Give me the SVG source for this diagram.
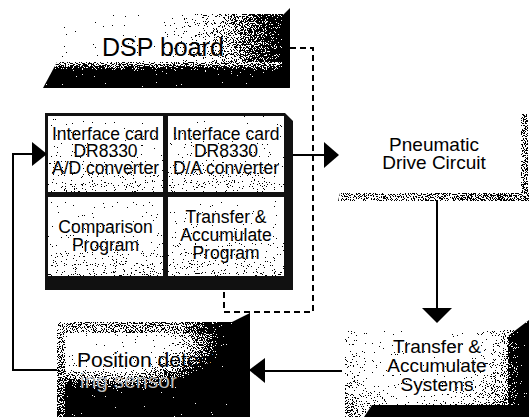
<svg xmlns="http://www.w3.org/2000/svg" width="529" height="417" viewBox="0 0 529 417">
<style>
  text { font-family: "Liberation Sans", Arial, sans-serif; fill: #000; }
  .cell { font-size: 17.5px; text-anchor: middle; }
  .big { font-size: 19px; text-anchor: middle; }
  .line { fill: none; stroke: #000; stroke-width: 2; }
  .dash { fill: none; stroke: #000; stroke-width: 2; stroke-dasharray: 6 4; }
  .head { fill: #000; }
  .gr { filter: url(#grain); }
</style>
<defs>
  <filter id="grain" x="0" y="0" width="1" height="1" color-interpolation-filters="sRGB">
    <feTurbulence type="fractalNoise" baseFrequency="0.9" numOctaves="2" seed="7" result="n"/>
    <feColorMatrix in="n" type="matrix" values="1 0 0 0 0  1 0 0 0 0  1 0 0 0 0  0 0 0 0 1" result="g"/>
    <feComposite in="SourceGraphic" in2="g" operator="arithmetic" k1="0" k2="1" k3="1.7" k4="-0.85" result="s"/>
    <feComponentTransfer in="s" result="t">
      <feFuncR type="discrete" tableValues="0 1"/>
      <feFuncG type="discrete" tableValues="0 1"/>
      <feFuncB type="discrete" tableValues="0 1"/>
    </feComponentTransfer>
    <feComposite in="t" in2="SourceGraphic" operator="in"/>
  </filter>
  <linearGradient id="dspFace" x1="0" y1="0" x2="1" y2="0">
    <stop offset="0" stop-color="#fff"/>
    <stop offset="0.4" stop-color="#fff"/>
    <stop offset="0.7" stop-color="#b4b4b4"/>
    <stop offset="1" stop-color="#333"/>
  </linearGradient>
  <linearGradient id="dspBottom" x1="0" y1="0" x2="0" y2="1">
    <stop offset="0" stop-color="#aaa"/>
    <stop offset="0.4" stop-color="#111"/>
    <stop offset="1" stop-color="#000"/>
  </linearGradient>
  <linearGradient id="cellFill" x1="0" y1="0" x2="0" y2="1">
    <stop offset="0" stop-color="#fafafa"/>
    <stop offset="0.5" stop-color="#e8e8e8"/>
    <stop offset="1" stop-color="#c4c4c4"/>
  </linearGradient>
  <linearGradient id="strip" x1="0" y1="0" x2="1" y2="0">
    <stop offset="0" stop-color="#999"/>
    <stop offset="1" stop-color="#777"/>
  </linearGradient>
  <radialGradient id="tasFill" gradientUnits="userSpaceOnUse" cx="420" cy="340" r="140">
    <stop offset="0" stop-color="#fff"/>
    <stop offset="0.4" stop-color="#e8e8e8"/>
    <stop offset="0.7" stop-color="#999"/>
    <stop offset="1" stop-color="#444"/>
  </radialGradient>
  <linearGradient id="tasRight" x1="0" y1="0" x2="1" y2="0">
    <stop offset="0" stop-color="#555"/>
    <stop offset="1" stop-color="#000"/>
  </linearGradient>
  <radialGradient id="posFill" gradientUnits="userSpaceOnUse" cx="110" cy="345" r="100" gradientTransform="translate(110 345) scale(1.25 0.5) translate(-110 -345)">
    <stop offset="0" stop-color="#fff"/>
    <stop offset="0.45" stop-color="#e4e4e4"/>
    <stop offset="0.75" stop-color="#777"/>
    <stop offset="0.9" stop-color="#222"/>
    <stop offset="1" stop-color="#000"/>
  </radialGradient>
  <linearGradient id="posTop" x1="0" y1="0" x2="1" y2="0">
    <stop offset="0" stop-color="#999"/>
    <stop offset="0.7" stop-color="#888"/>
    <stop offset="1" stop-color="#000"/>
  </linearGradient>
  <linearGradient id="posLeft" x1="0" y1="0" x2="0" y2="1">
    <stop offset="0" stop-color="#999"/>
    <stop offset="1" stop-color="#666"/>
  </linearGradient>
</defs>

<g id="dsp-board">
  <polygon class="gr" points="55,14 283,14 283,64 55,64" fill="url(#dspFace)"/>
  <polygon class="gr" points="43,88 57,62 283,62 290,88" fill="url(#dspBottom)"/>
  <polygon points="282,16 290,8 290,88 282,82" fill="#000"/>
  <text x="102" y="56" font-size="25">DSP board</text>
</g>

<g id="dsp-cards">
  <polygon points="45,113 285,113 293,121 293,290 45,290" fill="#111"/>
  <rect class="gr" x="48" y="116" width="115" height="76" fill="url(#cellFill)"/>
  <rect class="gr" x="168" y="116" width="116" height="76" fill="url(#cellFill)"/>
  <rect class="gr" x="48" y="197" width="115" height="79" fill="url(#cellFill)"/>
  <rect class="gr" x="168" y="197" width="116" height="79" fill="url(#cellFill)"/>
  <text class="cell" y="140"><tspan x="105.5">Interface card</tspan><tspan x="105.5" dy="17">DR8330</tspan><tspan x="105.5" dy="17">A/D converter</tspan></text>
  <text class="cell" y="140"><tspan x="226">Interface card</tspan><tspan x="226" dy="17">DR8330</tspan><tspan x="226" dy="17">D/A converter</tspan></text>
  <text class="cell" y="233"><tspan x="105.5">Comparison</tspan><tspan x="105.5" dy="18">Program</tspan></text>
  <text class="cell" y="223"><tspan x="226">Transfer &amp;</tspan><tspan x="226" dy="18">Accumulate</tspan><tspan x="226" dy="18">Program</tspan></text>
</g>

<g id="pneumatic">
  <polygon class="gr" points="340,193 529,193 529,201 338,201" fill="url(#strip)"/>
  <rect class="gr" x="521" y="114" width="7" height="82" fill="url(#strip)"/>
  <text class="big" y="151"><tspan x="434">Pneumatic</tspan><tspan x="434" dy="18">Drive Circuit</tspan></text>
</g>

<g id="transfer-systems">
  <rect class="gr" x="345" y="330" width="184" height="87" fill="url(#tasFill)"/>
  <polygon class="gr" points="508,336 529,320 529,417 508,417" fill="url(#tasRight)"/>
  <polygon points="372,405 529,405 529,417 364,417" fill="#000"/>
  <text class="big" y="353"><tspan x="437">Transfer &amp;</tspan><tspan x="437" dy="19">Accumulate</tspan><tspan x="437" dy="19">Systems</tspan></text>
</g>

<g id="position-sensor">
  <polygon class="gr" points="57,322 240,322 250,313 250,417 57,417" fill="url(#posFill)"/>
  <rect class="gr" x="57" y="322" width="178" height="11" fill="url(#posTop)"/>
  <rect class="gr" x="57" y="322" width="8" height="95" fill="url(#posLeft)"/>
  <polygon points="232,322 250,313 250,417 232,417" fill="#000"/>
  <text x="77" y="367" font-size="21"><tspan>Position detect</tspan><tspan x="80" dy="21" style="fill:#bbb">ing sensor</tspan></text>
</g>

<g id="connectors">
  <path class="dash" d="M290,48 H313 V312 H224 V290"/>
  <polyline class="line" points="57,370 13,370 13,154 33,154"/>
  <polygon class="head" points="32,142 47,154 32,166"/>
  <line class="line" x1="293" y1="155" x2="325" y2="155"/>
  <polygon class="head" points="324,142 339,155 324,168"/>
  <line class="line" x1="437" y1="200" x2="437" y2="309"/>
  <polygon class="head" points="422,308 452,308 437,323"/>
  <line class="line" x1="342" y1="371" x2="264" y2="371"/>
  <polygon class="head" points="265,358 249,370 265,383"/>
</g>
</svg>
